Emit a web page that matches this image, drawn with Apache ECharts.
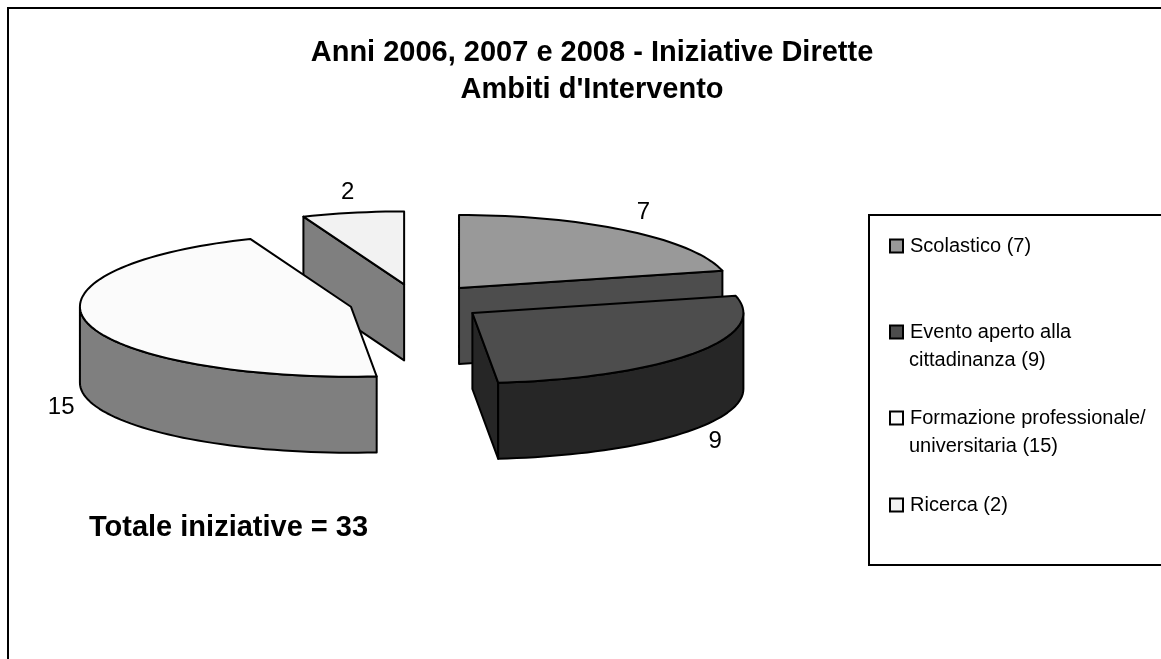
<!DOCTYPE html>
<html>
<head>
<meta charset="utf-8">
<style>
html, body { margin: 0; padding: 0; background: #fff; }
#chart { width: 1161px; height: 659px; }
</style>
<script src="https://cdn.jsdelivr.net/npm/echarts@6/dist/echarts.min.js"></script>
</head>
<body>
<div id="chart"></div>
<script>
var names = ['Scolastico (7)', 'Evento aperto alla\ncittadinanza (9)', 'Formazione professionale/\nuniversitaria (15)', 'Ricerca (2)'];
var values = [7, 9, 15, 2];
var topColors = ['#999999', '#4d4d4d', '#fbfbfb', '#f2f2f2'];
var wallColors = ['#4d4d4d', '#262626', '#7f7f7f', '#7f7f7f'];
var drawOrder = [3, 0, 2, 1];
var legendCenters = [246, 332, 418, 505];

// ryBack / ryFront: the original has a little perspective
var pie = { cx: 417, cy: 302.4, rx: 271, ryBack: 73, ryFront: 70, depth: 76, explodeX: 68, explodeY: 18.3 };
var font = 'Liberation Sans';
var total = values.reduce(function (a, b) { return a + b; }, 0);

function rim(o, deg, drop) {
    var r = deg * Math.PI / 180;
    var c = Math.cos(r);
    return [o[0] + pie.rx * Math.sin(r), o[1] - (c > 0 ? pie.ryBack : pie.ryFront) * c + (drop || 0)];
}

function arc(o, a, b, drop) {
    var pts = [];
    var n = Math.max(2, Math.ceil(Math.abs(b - a) / 2));
    for (var i = 0; i <= n; i++) {
        pts.push(rim(o, a + (b - a) * i / n, drop));
    }
    return pts;
}

function poly(points, fill) {
    return {
        type: 'polygon',
        shape: { points: points },
        style: { fill: fill, stroke: '#000', lineWidth: 2, lineJoin: 'round' }
    };
}

function radialFace(o, deg, fill) {
    var p = rim(o, deg);
    return poly([o, p, [p[0], p[1] + pie.depth], [o[0], o[1] + pie.depth]], fill);
}

function renderSlice(idx) {
    return function (params, api) {
        var before = values.slice(0, idx).reduce(function (a, b) { return a + b; }, 0);
        var start = before / total * 360;
        var end = start + api.value(0) / total * 360;
        var mid = (start + end) / 2 * Math.PI / 180;
        var o = [
            pie.cx + pie.explodeX * Math.sin(mid),
            pie.cy - pie.explodeY * Math.cos(mid)
        ];
        var children = [];

        // side faces only when they look towards the viewer
        if (Math.sin(start * Math.PI / 180) < -1e-6) {
            children.push(radialFace(o, start, wallColors[idx]));
        }
        if (Math.sin(end * Math.PI / 180) > 1e-6) {
            children.push(radialFace(o, end, wallColors[idx]));
        }
        var a = Math.max(start, 90);
        var b = Math.min(end, 270);
        if (b > a) {
            children.push(poly(arc(o, a, b, 0).concat(arc(o, b, a, pie.depth)), wallColors[idx]));
        }
        children.push(poly([o].concat(arc(o, start, end, 0)), topColors[idx]));

        var lx = o[0] + pie.rx * 1.1 * Math.sin(mid);
        var ly = o[1] - pie.ryBack * 1.1 * Math.cos(mid);
        ly += Math.cos(mid) < 0 ? pie.depth + 6 : -13;
        children.push({
            type: 'text',
            style: {
                text: String(api.value(0)), x: lx, y: ly, align: 'center', verticalAlign: 'middle',
                fontFamily: font, fontSize: 24, fill: '#000'
            }
        });
        return { type: 'group', children: children };
    };
}

var chart = echarts.init(document.getElementById('chart'));

var option = {
    animation: false,
    backgroundColor: '#fff',
    title: [
        {
            text: 'Anni 2006, 2007 e 2008 - Iniziative Dirette\nAmbiti d\'Intervento',
            left: 592, top: 34, textAlign: 'center', padding: 0,
            textStyle: { fontFamily: font, fontSize: 29, fontWeight: 'bold', lineHeight: 37, color: '#000' }
        },
        {
            text: 'Totale iniziative = 33',
            left: 89, top: 514, padding: 0,
            textStyle: { fontFamily: font, fontSize: 29, fontWeight: 'bold', lineHeight: 28, color: '#000' }
        }
    ],
    legend: names.map(function (name, i) {
        return {
            data: [name],
            left: 889,
            top: legendCenters[i] - 12,
            padding: 0,
            itemWidth: 13,
            itemHeight: 13,
            itemGap: 7,
            selectedMode: false,
            icon: 'rect',
            itemStyle: { borderColor: '#000', borderWidth: 2 },
            textStyle: { fontFamily: font, fontSize: 20, lineHeight: 24, color: '#000', padding: [0, 0, 0, 2] },
            formatter: function (n) { return n.split('\n')[0]; }
        };
    }),
    graphic: [
        {
            type: 'rect', z: -2, silent: true,
            shape: { x: 8, y: 8, width: 1180, height: 680 },
            style: { fill: '#fff', stroke: '#000', lineWidth: 2 }
        },
        {
            type: 'rect', z: -1, silent: true,
            shape: { x: 869, y: 215, width: 320, height: 350 },
            style: { fill: '#fff', stroke: '#000', lineWidth: 2 }
        }
    ].concat(names.map(function (name, i) {
        return {
            type: 'text', silent: true,
            style: {
                text: name.split('\n')[1] || '', x: 909, y: legendCenters[i] + 28, verticalAlign: 'middle',
                fontFamily: font, fontSize: 20, fill: '#000'
            }
        };
    })),
    series: names.map(function (name, i) {
        return {
            name: name,
            type: 'custom',
            coordinateSystem: 'none',
            silent: true,
            clip: false,
            z: 2 + drawOrder.indexOf(i),
            itemStyle: { color: topColors[i] },
            renderItem: renderSlice(i),
            data: [values[i]]
        };
    })
};

chart.setOption(option);
</script>
</body>
</html>
